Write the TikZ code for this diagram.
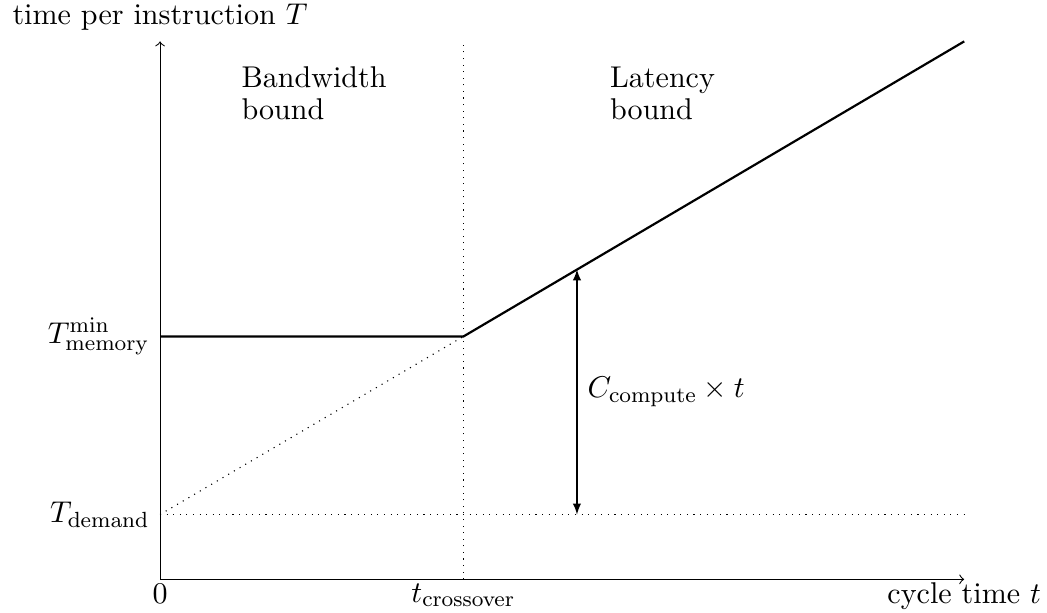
\documentclass[11pt,tikz,border=0pt]{standalone}
\begin{document}
\begin{tikzpicture}
    \useasboundingbox (-2.05,-0.42) rectangle (11.36,7.42);
    \coordinate (o) at (0,0);
    \coordinate (xend) at (10.3,0);
    \coordinate (yend) at (0,6.89);
    \coordinate (tmem) at (0,3.11);
    \coordinate (tdem) at (0,0.83);
    \coordinate (cross) at (3.885,3.11);
    \coordinate (crosstop) at (3.885,6.89);
    \coordinate (crossbot) at (3.885,0);
    \coordinate (lineend) at (10.3,6.89);
    \coordinate (demend) at (10.3,0.83);
    \coordinate (ctop) at (5.34,3.97);
    \coordinate (cbot) at (5.34,0.83);
    \draw[->] (o) -- (xend);
    \draw[->] (o) -- (yend) node (ylabel) [above] {time per instruction $T$};
    \node (xlabel) at (xend) [below, inner sep=1pt] {cycle time $t$};
    \node (zero) at (o) [below, inner sep=1.5pt] {$0$};
    \node (tcross) at (crossbot) [below, inner sep=1.5pt] {$t_{\mathrm{crossover}}$};
    \node (lmem) at (tmem) [left] {$T^{\mathrm{min}}_{\mathrm{memory}}$};
    \node (ldem) at (tdem) [left] {$T_{\mathrm{demand}}$};
    \draw[dotted] (crossbot) -- (crosstop);
    \draw[dotted] (tdem) -- (demend);
    \draw[dotted] (tdem) -- (cross);
    \draw[thick] (tmem) -- (cross) -- (lineend);
    \draw[latex-latex] (ctop) -- (cbot) node (cdiff) [midway, right] {$C_{\mathrm{compute}} \times t$};
    \node (bw) at (0.91,6.7) [anchor=north west, align=left] {Bandwidth\\[-2pt]bound};
    \node (lat) at (5.63,6.7) [anchor=north west, align=left] {Latency\\[-2pt]bound};
\end{tikzpicture}
\end{document}
